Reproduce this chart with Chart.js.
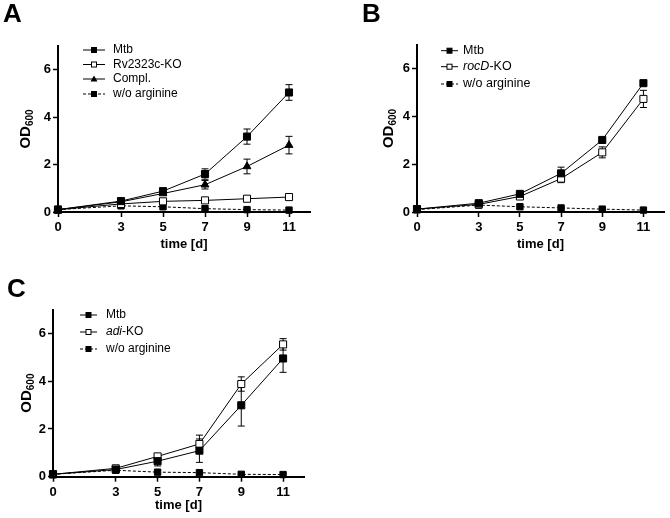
<!DOCTYPE html>
<html><head><meta charset="utf-8">
<script src="https://cdn.jsdelivr.net/npm/chart.js@4"></script>
<style>
body{margin:0;background:#fff;}
#wrap{position:relative;width:670px;height:518px;background:#fff;}
canvas{position:absolute;left:0;top:0;}
</style>
</head><body>
<div id="wrap">
<canvas id="cA" width="670" height="518"></canvas>
<canvas id="cB" width="670" height="518"></canvas>
<canvas id="cC" width="670" height="518"></canvas>
</div>
<script>
// ---- data ----
const days = [0, 3, 5, 7, 9, 11];
const xTicks = [0, 3, 5, 7, 9, 11];
const yTicks = [0, 2, 4, 6];

// Panel A
const aMtb       = [0.10, 0.46, 0.88, 1.60, 3.18, 5.04];
const aMtbErr    = [0, 0.03, 0.05, 0.22, 0.32, 0.33];
const aKO        = [0.10, 0.34, 0.45, 0.49, 0.56, 0.63];
const aKOErr     = [0, 0.02, 0.03, 0.03, 0.04, 0.04];
const aCompl     = [0.10, 0.43, 0.78, 1.15, 1.92, 2.82];
const aComplErr  = [0, 0.03, 0.05, 0.18, 0.31, 0.37];
const aNoArg     = [0.10, 0.26, 0.22, 0.14, 0.10, 0.08];

// Panel B
const bMtb       = [0.12, 0.37, 0.76, 1.62, 3.02, 5.40];
const bMtbErr    = [0, 0.02, 0.03, 0.26, 0.05, 0.05];
const bKO        = [0.12, 0.32, 0.65, 1.40, 2.50, 4.74];
const bKOErr     = [0, 0.02, 0.04, 0.17, 0.23, 0.36];
const bNoArg     = [0.10, 0.29, 0.22, 0.17, 0.12, 0.08];

// Panel C
const cMtb       = [0.10, 0.30, 0.65, 1.09, 2.99, 4.95];
const cMtbErr    = [0, 0.03, 0.20, 0.49, 0.87, 0.58];
const cKO        = [0.10, 0.35, 0.85, 1.37, 3.88, 5.54];
const cKOErr     = [0, 0.03, 0.10, 0.37, 0.30, 0.24];
const cNoArg     = [0.10, 0.27, 0.19, 0.17, 0.10, 0.09];

const FONT = '"Liberation Sans", Arial, Helvetica, sans-serif';

function makeSeries(label, values, errors, style, radius, fill, dashed) {
  return { label, values, errors, style, radius, fill, dashed };
}

function drawMarker(ctx, style, x, y, fill) {
  ctx.save();
  ctx.lineWidth = 1;
  ctx.strokeStyle = '#000';
  ctx.fillStyle = fill;
  ctx.setLineDash([]);
  if (style === 'triangle') {
    ctx.beginPath();
    ctx.moveTo(x, y - 3.5);
    ctx.lineTo(x + 3.5, y + 2.5);
    ctx.lineTo(x - 3.5, y + 2.5);
    ctx.closePath();
    ctx.fill();
  } else {
    ctx.fillRect(x - 2.5, y - 2.5, 5, 5);
    ctx.strokeRect(x - 2.5, y - 2.5, 5, 5);
  }
  ctx.restore();
}

function buildChart(id, p) {
  const datasets = p.series.map(s => ({
    label: s.label,
    data: days.map((d, i) => ({ x: d, y: s.values[i] })),
    borderColor: '#000',
    borderWidth: 1,
    borderDash: s.dashed ? [3, 2] : [],
    pointStyle: s.style,
    pointRadius: s.radius,
    pointBackgroundColor: s.fill,
    pointBorderColor: '#000',
    pointBorderWidth: 1,
    tension: 0,
    clip: false,
    fill: false
  }));

  const extras = {
    id: 'extras' + id,
    beforeDatasetsDraw(chart) {
      const ctx = chart.ctx;
      const xs = chart.scales.x, ys = chart.scales.y;
      ctx.save();
      ctx.strokeStyle = '#000';
      ctx.lineWidth = 1;
      ctx.setLineDash([]);
      p.series.forEach(s => {
        s.values.forEach((v, i) => {
          const e = s.errors[i];
          if (!e) return;
          const px = xs.getPixelForValue(days[i]);
          const y1 = ys.getPixelForValue(v + e);
          const y2 = ys.getPixelForValue(v - e);
          ctx.beginPath();
          ctx.moveTo(px, y1); ctx.lineTo(px, y2);
          ctx.moveTo(px - 3.5, y1); ctx.lineTo(px + 3.5, y1);
          ctx.moveTo(px - 3.5, y2); ctx.lineTo(px + 3.5, y2);
          ctx.stroke();
        });
      });
      ctx.restore();
    },
    afterDraw(chart) {
      const ctx = chart.ctx;
      const area = chart.chartArea;
      ctx.save();
      ctx.fillStyle = '#000';
      // panel letter
      ctx.font = 'bold 26px ' + FONT;
      ctx.textAlign = 'left';
      ctx.textBaseline = 'alphabetic';
      ctx.fillText(p.letter, p.letterX, p.letterY);
      // x title
      ctx.font = 'bold 13px ' + FONT;
      ctx.textAlign = 'center';
      ctx.textBaseline = 'middle';
      ctx.fillText('time [d]', (area.left + area.right) / 2, area.bottom + p.xTitleOff);
      // y title OD600 rotated
      ctx.save();
      ctx.translate(p.yTitleX, (area.top + area.bottom) / 2);
      ctx.rotate(-Math.PI / 2);
      ctx.font = 'bold 15px ' + FONT;
      const w1 = ctx.measureText('OD').width;
      ctx.font = 'bold 10px ' + FONT;
      const w2 = ctx.measureText('600').width;
      const start = -(w1 + w2) / 2;
      ctx.textAlign = 'left';
      ctx.textBaseline = 'middle';
      ctx.font = 'bold 15px ' + FONT;
      ctx.fillText('OD', start, 0);
      ctx.font = 'bold 10px ' + FONT;
      ctx.fillText('600', start + w1, 4);
      ctx.restore();
      // legend
      p.series.forEach((s, i) => {
        const y = p.legY[i];
        ctx.save();
        ctx.strokeStyle = '#000';
        ctx.lineWidth = 1;
        ctx.setLineDash(s.dashed ? [3, 2] : []);
        ctx.beginPath();
        ctx.moveTo(p.legX1, y); ctx.lineTo(p.legX2, y);
        ctx.stroke();
        ctx.restore();
        drawMarker(ctx, s.style, (p.legX1 + p.legX2) / 2, y, s.fill);
        let tx = p.legTextX;
        ctx.textAlign = 'left';
        ctx.textBaseline = 'middle';
        (p.legParts[i]).forEach(part => {
          ctx.font = (part.italic ? 'italic ' : '') + p.legFont + 'px ' + FONT;
          ctx.fillText(part.t, tx, y);
          tx += ctx.measureText(part.t).width;
        });
      });
      ctx.restore();
    }
  };

  const tickFont = { family: FONT, size: 13, weight: 'bold' };
  new Chart(document.getElementById(id), {
    type: 'line',
    data: { datasets },
    options: {
      responsive: false,
      animation: false,
      devicePixelRatio: 1,
      layout: { padding: { left: p.left - 40, top: p.top, right: 670 - p.right, bottom: 518 - p.bottom - 40 } },
      plugins: { legend: { display: false }, tooltip: { enabled: false } },
      scales: {
        x: {
          type: 'linear', min: 0, max: 12,
          afterBuildTicks: sc => { sc.ticks = xTicks.map(v => ({ value: v })); },
          afterFit: sc => { sc.height = 40; },
          grid: { display: true, drawOnChartArea: false, drawTicks: true, tickLength: 5, tickColor: '#000', tickWidth: 1.5 },
          border: { display: true, color: '#000', width: 2 },
          ticks: { color: '#000', font: tickFont, padding: 3, maxRotation: 0, autoSkip: false }
        },
        y: {
          type: 'linear', min: 0, max: 7,
          afterBuildTicks: sc => { sc.ticks = yTicks.map(v => ({ value: v })); },
          afterFit: sc => { sc.width = 40; },
          grid: { display: true, drawOnChartArea: false, drawTicks: true, tickLength: 5, tickColor: '#000', tickWidth: 1.5 },
          border: { display: true, color: '#000', width: 2 },
          ticks: { color: '#000', font: tickFont, padding: 2, autoSkip: false }
        }
      }
    },
    plugins: [extras]
  });
}

buildChart('cA', {
  letter: 'A', letterX: 3, letterY: 22,
  left: 58, right: 310, top: 46, bottom: 212, yTitleX: 26, xTitleOff: 32,
  legX1: 83, legX2: 105, legTextX: 113, legY: [50, 64.5, 79, 94], legFont: 12,
  legParts: [[{ t: 'Mtb' }], [{ t: 'Rv2323c-KO' }], [{ t: 'Compl.' }], [{ t: 'w/o arginine' }]],
  series: [
    makeSeries('Mtb', aMtb, aMtbErr, 'rect', 5, '#000', false),
    makeSeries('Rv2323c-KO', aKO, aKOErr, 'rect', 5, '#fff', false),
    makeSeries('Compl.', aCompl, aComplErr, 'triangle', 4.5, '#000', false),
    makeSeries('w/o arginine', aNoArg, [0, 0, 0, 0, 0, 0], 'rect', 4.5, '#000', true)
  ]
});

buildChart('cB', {
  letter: 'B', letterX: 362, letterY: 22,
  left: 417, right: 668, top: 45, bottom: 212, yTitleX: 389, xTitleOff: 32,
  legX1: 441, legX2: 458, legTextX: 463, legY: [50.7, 66.7, 84], legFont: 12.5,
  legParts: [[{ t: 'Mtb' }], [{ t: 'rocD', italic: true }, { t: '-KO' }], [{ t: 'w/o arginine' }]],
  series: [
    makeSeries('Mtb', bMtb, bMtbErr, 'rect', 5, '#000', false),
    makeSeries('rocD-KO', bKO, bKOErr, 'rect', 5, '#fff', false),
    makeSeries('w/o arginine', bNoArg, [0, 0, 0, 0, 0, 0], 'rect', 4.5, '#000', true)
  ]
});

buildChart('cC', {
  letter: 'C', letterX: 7, letterY: 297,
  left: 53, right: 304, top: 309.5, bottom: 476.7, yTitleX: 27, xTitleOff: 29,
  legX1: 80, legX2: 97, legTextX: 106, legY: [315, 332, 349], legFont: 12,
  legParts: [[{ t: 'Mtb' }], [{ t: 'adi', italic: true }, { t: '-KO' }], [{ t: 'w/o arginine' }]],
  series: [
    makeSeries('Mtb', cMtb, cMtbErr, 'rect', 5, '#000', false),
    makeSeries('adi-KO', cKO, cKOErr, 'rect', 5, '#fff', false),
    makeSeries('w/o arginine', cNoArg, [0, 0, 0, 0, 0, 0], 'rect', 4.5, '#000', true)
  ]
});
</script>
</body></html>
